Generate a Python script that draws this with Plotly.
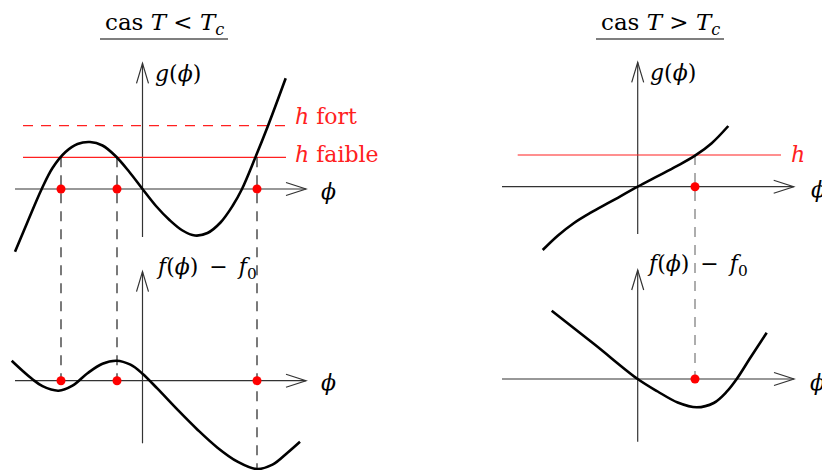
import plotly.graph_objects as go

W, H = 822, 470
# panel origins (pixel positions of the axis crossings)
OX_L, OX_R = 142.5, 637.7
OY_TL, OY_TR, OY_BL, OY_BR = 189.0, 186.7, 380.7, 379.0

# ---- data (local units: phi to the right, value upward) ----
# T < Tc : g(phi)
phi_g_low = [-127.5, -115.0, -100.8, -90.0, -77.0, -65.0, -52.5, -40.0, -27.0, -13.5, 0.0,
             13.5, 27.0, 40.0, 52.5, 65.0, 78.0, 90.0, 99.5, 112.5, 125.8, 143.2]
g_low     = [-62.7, -33.0, 0.0, 21.0, 37.0, 45.0, 47.0, 43.5, 33.0, 17.5, 0.0,
             -17.0, -31.0, -41.5, -46.5, -44.0, -33.5, -17.0, 0.0, 30.7, 64.0, 110.7]
h_fort, h_faible = 63.3, 31.7
roots_low = [-81.5, -25.5, 114.5]
# T < Tc : f(phi) - f0
phi_f_low = [-130.8, -120.0, -110.0, -100.0, -84.0, -70.0, -55.0, -40.0, -26.0, -12.0, 0.0,
             15.0, 35.0, 55.0, 75.0, 95.0, 114.2, 130.0, 145.0, 157.5]
f_low     = [20.0, 10.0, 1.5, -5.5, -10.0, -5.0, 7.5, 17.0, 20.0, 16.0, 7.0,
             -8.0, -29.0, -49.0, -67.0, -81.0, -88.3, -84.0, -72.0, -61.0]
f_low_at_roots = [0.0, 0.0, -88.3]

# T > Tc : g(phi)
phi_g_high = [-95.0, -80.0, -64.0, -47.0, -27.0, 0.0, 19.0, 39.0, 57.3, 74.0, 90.6]
g_high     = [-63.3, -49.0, -36.5, -26.0, -15.0, 0.0, 10.0, 20.5, 31.0, 43.5, 60.7]
h_high = 31.7
roots_high = [57.3]
# T > Tc : f(phi) - f0
phi_f_high = [-86.0, -43.0, 0.0, 20.0, 40.0, 59.0, 76.0, 89.0, 99.0, 112.3, 129.0]
f_high     = [68.3, 34.5, 0.0, -12.5, -23.5, -28.3, -24.0, -12.7, 0.0, 20.7, 46.3]
f_high_at_roots = [0.0]

FONT = "DejaVu Serif, Liberation Serif, serif"
RED = "#ff2020"
AX = "#333333"
FS = 22
SP = "\u2002"

fig = go.Figure()

def curve(px, py, xa, ya):
    fig.add_trace(go.Scatter(x=px, y=py, xaxis=xa, yaxis=ya, mode="lines",
                             line=dict(color="black", width=2.6, shape="spline", smoothing=1.0),
                             hoverinfo="skip", showlegend=False))

def dots(px, xa, ya):
    fig.add_trace(go.Scatter(x=px, y=[0] * len(px), xaxis=xa, yaxis=ya, mode="markers",
                             marker=dict(color="#ff0000", size=9, line=dict(width=0)),
                             hoverinfo="skip", showlegend=False))

shapes = []
annotations = []

def axes(xa, ya, x0, x1, y0, y1):
    ln = dict(color=AX, width=1.2)
    shapes.append(dict(type="line", xref=xa, yref=ya, x0=x0, x1=x1, y0=0, y1=0, line=ln, layer="below"))
    shapes.append(dict(type="line", xref=xa, yref=ya, x0=0, x1=0, y0=y0, y1=y1, line=ln, layer="below"))
    shapes.append(dict(type="path", xref=xa, yref=ya, layer="below",
                       path=f"M {x1-20},{6.5} L {x1},0 L {x1-20},{-6.5}", line=ln))
    shapes.append(dict(type="path", xref=xa, yref=ya, layer="below",
                       path=f"M -6,{y1-20} L 0,{y1} L 6,{y1-20}", line=ln))

def label(text, xa, ya, x, y, color="black", size=FS):
    annotations.append(dict(text=text, xref=xa, yref=ya, x=x, y=y, showarrow=False,
                            xanchor="left", yanchor="middle", font=dict(family=FONT, size=size, color=color)))

def hline(xa, ya, y, x0, x1, dash="solid"):
    shapes.append(dict(type="line", xref=xa, yref=ya, x0=x0, x1=x1, y0=y, y1=y, layer="below",
                       line=dict(color=RED, width=1.2, dash=dash)))

def vdash(xa, ya, x, ytop, ybot_other, oy_from, oy_to, color):
    ybot = oy_from - oy_to + ybot_other
    shapes.append(dict(type="line", xref=xa, yref=ya, x0=x, x1=x, y0=ytop, y1=ybot, layer="below",
                       line=dict(color=color, width=1.2, dash="10px,8px")))

# ---- left column: T < Tc ----
axes("x", "y", -127.5, 163.5, -48, 125.7)
axes("x", "y3", -127.5, 163.5, -62.6, 109)
hline("x", "y", h_fort, -119.5, 143.5, dash="10px,8px")
hline("x", "y", h_faible, -119.5, 143.5)
for r, fe in zip(roots_low, f_low_at_roots):
    vdash("x", "y", r, h_faible, fe, OY_TL, OY_BL, "#222222")
curve(phi_g_low, g_low, "x", "y")
curve(phi_f_low, f_low, "x", "y3")
dots(roots_low, "x", "y")
dots(roots_low, "x", "y3")
label("<i>g</i>(<i>ϕ</i>)", "x", "y", 10.0, OY_TL - 73)
label("<i>ϕ</i>", "x", "y", 176.5, -2)
label("<i>h</i> fort", "x", "y", 150.0, OY_TL - 116, color=RED)
label("<i>h</i> faible", "x", "y", 150.0, OY_TL - 154, color=RED)
label("<i>f</i>(<i>ϕ</i>)" + SP + "−" + SP + "<i>f</i><sub>0</sub>", "x", "y3", 11.0, OY_BL - 268)
label("<i>ϕ</i>", "x", "y3", 176.5, -2)

# ---- right column: T > Tc ----
axes("x2", "y2", -135.7, 156.0, -47.3, 124.4)
axes("x2", "y4", -135.7, 156.3, -62.7, 109)
hline("x2", "y2", h_high, -120.0, 143.3)
for r, fe in zip(roots_high, f_high_at_roots):
    vdash("x2", "y2", r, h_high, fe, OY_TR, OY_BR, "#777777")
curve(phi_g_high, g_high, "x2", "y2")
curve(phi_f_high, f_high, "x2", "y4")
dots(roots_high, "x2", "y2")
dots(roots_high, "x2", "y4")
label("<i>g</i>(<i>ϕ</i>)", "x2", "y2", 10.0, OY_TR - 72.7)
label("<i>ϕ</i>", "x2", "y2", 171.3, -3)
label("<i>h</i>", "x2", "y2", 151.0, h_high + 1, color=RED)
label("<i>f</i>(<i>ϕ</i>)" + SP + "−" + SP + "<i>f</i><sub>0</sub>", "x2", "y4", 7.0, OY_BR - 265)
label("<i>ϕ</i>", "x2", "y4", 170.3, -3)

# ---- titles ----
for txt, cx, x0, x1 in [("cas <i>T</i> &lt; <i>T</i><sub><i>c</i></sub>", 164, 100, 228),
                        ("cas <i>T</i> &gt; <i>T</i><sub><i>c</i></sub>", 660, 596, 724)]:
    annotations.append(dict(text=txt, xref="paper", yref="paper", x=cx / W, y=1 - 24 / H, showarrow=False,
                            xanchor="center", yanchor="middle", font=dict(family=FONT, size=23, color="black")))
    shapes.append(dict(type="line", xref="paper", yref="paper", x0=x0 / W, x1=x1 / W,
                       y0=1 - 39 / H, y1=1 - 39 / H, line=dict(color="black", width=1.2)))

ax_common = dict(visible=False, showgrid=False, zeroline=False, fixedrange=True, domain=[0, 1])
fig.update_layout(
    width=W, height=H, margin=dict(l=0, r=0, t=0, b=0),
    paper_bgcolor="white", plot_bgcolor="white", showlegend=False,
    xaxis=dict(range=[-OX_L, W - OX_L], anchor="y", **ax_common),
    xaxis2=dict(range=[-OX_R, W - OX_R], overlaying="x", anchor="y", **ax_common),
    yaxis=dict(range=[-(H - OY_TL), OY_TL], anchor="x", **ax_common),
    yaxis2=dict(range=[-(H - OY_TR), OY_TR], overlaying="y", anchor="x", **ax_common),
    yaxis3=dict(range=[-(H - OY_BL), OY_BL], overlaying="y", anchor="x", **ax_common),
    yaxis4=dict(range=[-(H - OY_BR), OY_BR], overlaying="y", anchor="x", **ax_common),
    shapes=shapes, annotations=annotations,
)

fig.write_html("out.html", config={"displayModeBar": False},
               post_script="document.body.style.margin='0px';document.body.style.overflow='hidden';")
